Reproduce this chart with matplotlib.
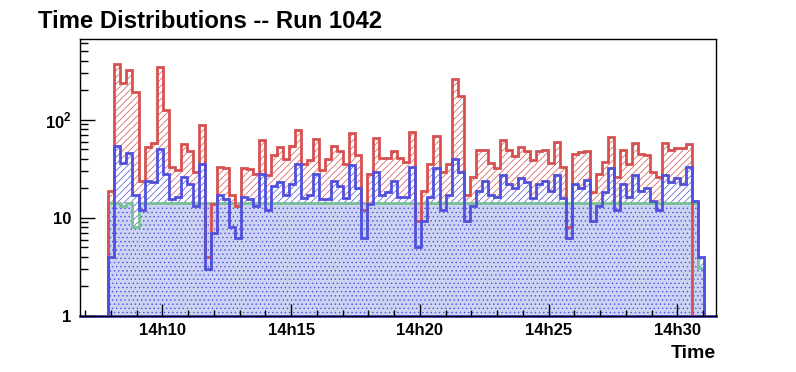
import numpy as np
import matplotlib
matplotlib.use("Agg")
import matplotlib.pyplot as plt
from matplotlib.ticker import FixedLocator, FixedFormatter

plt.rcParams['font.family'] = ['Liberation Sans', 'DejaVu Sans']
plt.rcParams['font.weight'] = 'bold'
plt.rcParams['mathtext.fontset'] = 'custom'
plt.rcParams['mathtext.rm'] = 'Liberation Sans:bold'
plt.rcParams['mathtext.bf'] = 'Liberation Sans:bold'
plt.rcParams['hatch.linewidth'] = 0.5

# time axis in minutes after 14h00, bins of ~14 s
t_start = 7.903
bin_w = 0.2338

red = [19, 366, 235, 318, 191, 24, 53, 57.5, 343, 127, 33, 31, 56.6, 48,
       29, 88, 4.0, 14, 33, 32, 17.3, 13.2, 32.5, 31.4, 27.8, 62, 27.6, 44,
       53, 39.5, 54, 78, 35.7, 38.6, 63, 31, 39.5, 54, 47.7, 35.7, 73, 44,
       12, 28, 65, 40.8, 40.8, 47.7, 40.8, 37, 75, 9.3, 19, 35, 68, 29,
       35.7, 258, 174, 17.3, 26, 48.9, 49.5, 36, 32.5, 62, 49.5, 42.7, 53, 47.7,
       38.6, 47.7, 48.9, 36.6, 59, 33, 8.1, 44.5, 47, 47.7, 18.4, 28, 37, 66.7,
       26, 48.9, 35.7, 58.5, 44.5, 43.6, 29, 26, 58.5, 49.5, 51.5, 51.5, 56,
       0, 0]
blue = [4.0, 54, 36, 46, 17.3, 12, 24, 23, 50, 28, 15.4, 16.4, 26, 22,
        13.2, 35, 3.0, 7.0, 17.3, 15.4, 8.1, 6.2, 16.4, 15.4, 13.2, 28, 12, 21,
        23, 17, 22, 35.7, 16.1, 17.3, 28, 15.4, 15.4, 24, 21, 16.1, 34.4, 20,
        6.2, 14, 29, 17.3, 18.4, 24, 16.4, 16.4, 33, 5.1, 9.3, 16.4, 32, 12,
        17.3, 39.5, 29, 9.3, 13.2, 19, 24, 17.3, 16.4, 27.6, 22, 20, 25.5, 23,
        16.1, 22, 24, 19, 27.6, 16.1, 6.2, 22, 20, 24.6, 9.2, 13.2, 18.4, 32,
        12, 22, 16.4, 27.6, 19, 20, 15, 12, 27.6, 23, 25.5, 22, 33,
        15, 4.0]
green = [14.1] * 99
green[2] = 13.2
green[4] = 8.0
green[98] = 3.06

edges = t_start + bin_w * np.arange(len(blue) + 1)
red_v = np.maximum(np.array(red, float), 1)
blue_v = np.maximum(np.array(blue, float), 1)
green_v = np.maximum(np.array(green, float), 1)

c_red = '#d65050'
c_blue = '#5050dc'
c_green = '#78c096'

fig = plt.figure(figsize=(7.96, 3.72), dpi=100)
ax = fig.add_axes([80 / 796, (372 - 316) / 372, 636 / 796, 277 / 372])

ax.stairs(red_v, edges, baseline=1, fill=True, facecolor='white',
          edgecolor=c_red, hatch='/////', lw=0)
ax.stairs(blue_v, edges, baseline=1, fill=True, facecolor='white',
          edgecolor=c_blue, hatch='/////', lw=0)
ax.stairs(green_v, edges, baseline=1, fill=True, facecolor='#cdd4f3',
          edgecolor=c_blue, hatch='....', lw=0)
ax.stairs(green_v, edges, baseline=1, color=c_green, lw=2)
ax.stairs(red_v, edges, baseline=1, color=c_red, lw=2)
ax.stairs(blue_v, edges, baseline=1, color=c_blue, lw=2)
ax.plot([6.8, 31.5], [1, 1], color=c_blue, lw=2, clip_on=False, zorder=1.5)

ax.set_yscale('log')
ax.set_xlim(6.8, 31.5)
ax.set_ylim(1, 665)

ax.xaxis.set_major_locator(FixedLocator([10, 15, 20, 25, 30]))
ax.xaxis.set_major_formatter(FixedFormatter(['14h10', '14h15', '14h20', '14h25', '14h30']))
ax.xaxis.set_minor_locator(FixedLocator(np.arange(7, 32, 1)))
ax.yaxis.set_major_locator(FixedLocator([1, 10, 100]))
ax.yaxis.set_major_formatter(FixedFormatter(['1', '10', r'$10^{2}$']))
ax.yaxis.set_minor_locator(FixedLocator([2, 3, 4, 5, 6, 7, 8, 9, 20, 30, 40, 50, 60, 70, 80, 90,
                                         200, 300, 400, 500, 600]))
ax.yaxis.set_minor_formatter(FixedFormatter([]))
ax.tick_params(axis='both', which='both', direction='in', top=False, right=False,
               labelsize=12, width=1)
ax.tick_params(axis='x', which='major', length=9, pad=5)
ax.tick_params(axis='x', which='minor', length=4.5)
ax.tick_params(axis='y', which='major', length=11, pad=6)
ax.tick_params(axis='y', which='minor', length=6)
for s in ax.spines.values():
    s.set_linewidth(1)

fig.text(38 / 796, 1 - 21 / 372, 'Time Distributions -- Run 1042', fontsize=17.2,
         fontweight='bold', va='center', ha='left')
fig.text(716 / 796, 1 - 354 / 372, 'Time', fontsize=14, fontweight='bold',
         va='center', ha='right')

fig.savefig('out.png', dpi=100)
